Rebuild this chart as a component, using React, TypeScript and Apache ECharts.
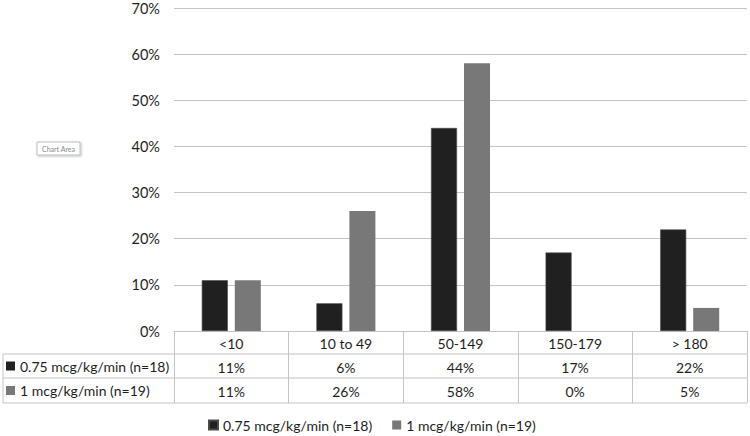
import React, { useEffect, useRef } from "react";
import * as echarts from "echarts";

const categories = ["<10", "10 to 49", "50-149", "150-179", "> 180"];
const seriesNames = ["0.75 mcg/kg/min (n=18)", "1 mcg/kg/min (n=19)"];
const lowDose = [11, 6, 44, 17, 22];
const highDose = [11, 26, 58, 0, 5];
const yTicks = [0, 10, 20, 30, 40, 50, 60, 70];

const FONT = "Lato, 'Open Sans', sans-serif";
const C1 = "#202020";
const C2 = "#787878";
const LINE = "#c4c4c4";
const TXT = "#1e1e1e";

export default function App() {
  const ref = useRef<HTMLDivElement>(null);
  useEffect(() => {
    if (!ref.current) return;
    const chart = echarts.init(ref.current, undefined, { renderer: "svg" });
    const W = 750, H = 436;
    const gLeft = 174, gRight = 3, gTop = 8, gBottom = 105;
    const axisY = H - gBottom;
    const rowH = 24;
    const r1 = axisY + 23, r2 = r1 + rowH, r3 = r2 + 25;
    const tableLeft = 3;
    const xEnd = W - gRight;
    const hLine = (y: number) => ({
      type: "line",
      shape: { x1: tableLeft, y1: y, x2: xEnd, y2: y },
      style: { stroke: LINE, lineWidth: 1 },
      silent: true,
    });
    chart.setOption({
      animation: false,
      backgroundColor: "#ffffff",
      textStyle: { fontFamily: FONT },
      grid: { left: gLeft, right: gRight, top: gTop, bottom: gBottom, containLabel: false },
      legend: {
        data: seriesNames,
        left: 203,
        top: 413,
        icon: "rect",
        itemWidth: 9,
        itemHeight: 9,
        itemGap: 20,
        textStyle: { fontSize: 14, color: TXT, fontFamily: FONT },
      },
      xAxis: {
        type: "category",
        data: categories,
        axisLine: { show: true, lineStyle: { color: LINE, width: 1 } },
        axisTick: { show: true, length: r3 - axisY, lineStyle: { color: LINE, width: 1 } },
        axisLabel: {
          margin: 0,
          interval: 0,
          fontSize: 14,
          lineHeight: rowH,
          color: TXT,
          fontFamily: FONT,
          formatter: (v: string, i: number) =>
            `${v}\n${lowDose[i]}%\n${highDose[i]}%`,
        },
      },
      yAxis: {
        type: "value",
        min: yTicks[0],
        max: yTicks[yTicks.length - 1],
        interval: 10,
        axisLine: { show: false },
        axisTick: { show: false },
        axisLabel: {
          formatter: "{value}%",
          fontSize: 14.5,
          color: TXT,
          margin: 14,
          fontFamily: FONT,
        },
        splitLine: { lineStyle: { color: LINE, width: 1 } },
      },
      series: [
        {
          name: seriesNames[0],
          type: "bar",
          data: lowDose,
          barWidth: 26,
          barGap: "27%",
          itemStyle: { color: C1, borderColor: "#4a4a4a", borderWidth: 0.6 },
        },
        {
          name: seriesNames[1],
          type: "bar",
          data: highDose,
          barWidth: 26,
          itemStyle: { color: C2, borderWidth: 0 },
        },
      ],
      graphic: [
        hLine(r1),
        hLine(r2),
        hLine(r3),
        {
          type: "line",
          shape: { x1: tableLeft, y1: r1, x2: tableLeft, y2: r3 },
          style: { stroke: LINE, lineWidth: 1 },
          silent: true,
        },
        {
          type: "rect",
          shape: { x: 6, y: (r1 + r2) / 2 - 4.5, width: 9, height: 9 },
          style: { fill: C1 },
        },
        {
          type: "text",
          x: 20,
          y: (r1 + r2) / 2,
          style: { text: seriesNames[0], fontSize: 14, fill: TXT, fontFamily: FONT, verticalAlign: "middle" },
        },
        {
          type: "rect",
          shape: { x: 6, y: (r2 + r3) / 2 - 4.5, width: 9, height: 9 },
          style: { fill: C2 },
        },
        {
          type: "text",
          x: 20,
          y: (r2 + r3) / 2,
          style: { text: seriesNames[1], fontSize: 14, fill: TXT, fontFamily: FONT, verticalAlign: "middle" },
        },
        {
          type: "rect",
          shape: { x: 37, y: 142, width: 43, height: 13 },
          style: { fill: "#ffffff", stroke: "#bdbdbd", lineWidth: 1, shadowBlur: 2, shadowColor: "rgba(0,0,0,0.25)", shadowOffsetX: 1, shadowOffsetY: 1 },
        },
        {
          type: "text",
          x: 58.5,
          y: 148.5,
          style: { text: "Chart Area", fontSize: 7, fill: "#8a8a8a", fontFamily: FONT, align: "center", verticalAlign: "middle" },
        },
      ],
    });
    return () => chart.dispose();
  }, []);
  return <div ref={ref} style={{ width: 750, height: 436, position: "absolute", left: 0, top: 0 }} />;
}
